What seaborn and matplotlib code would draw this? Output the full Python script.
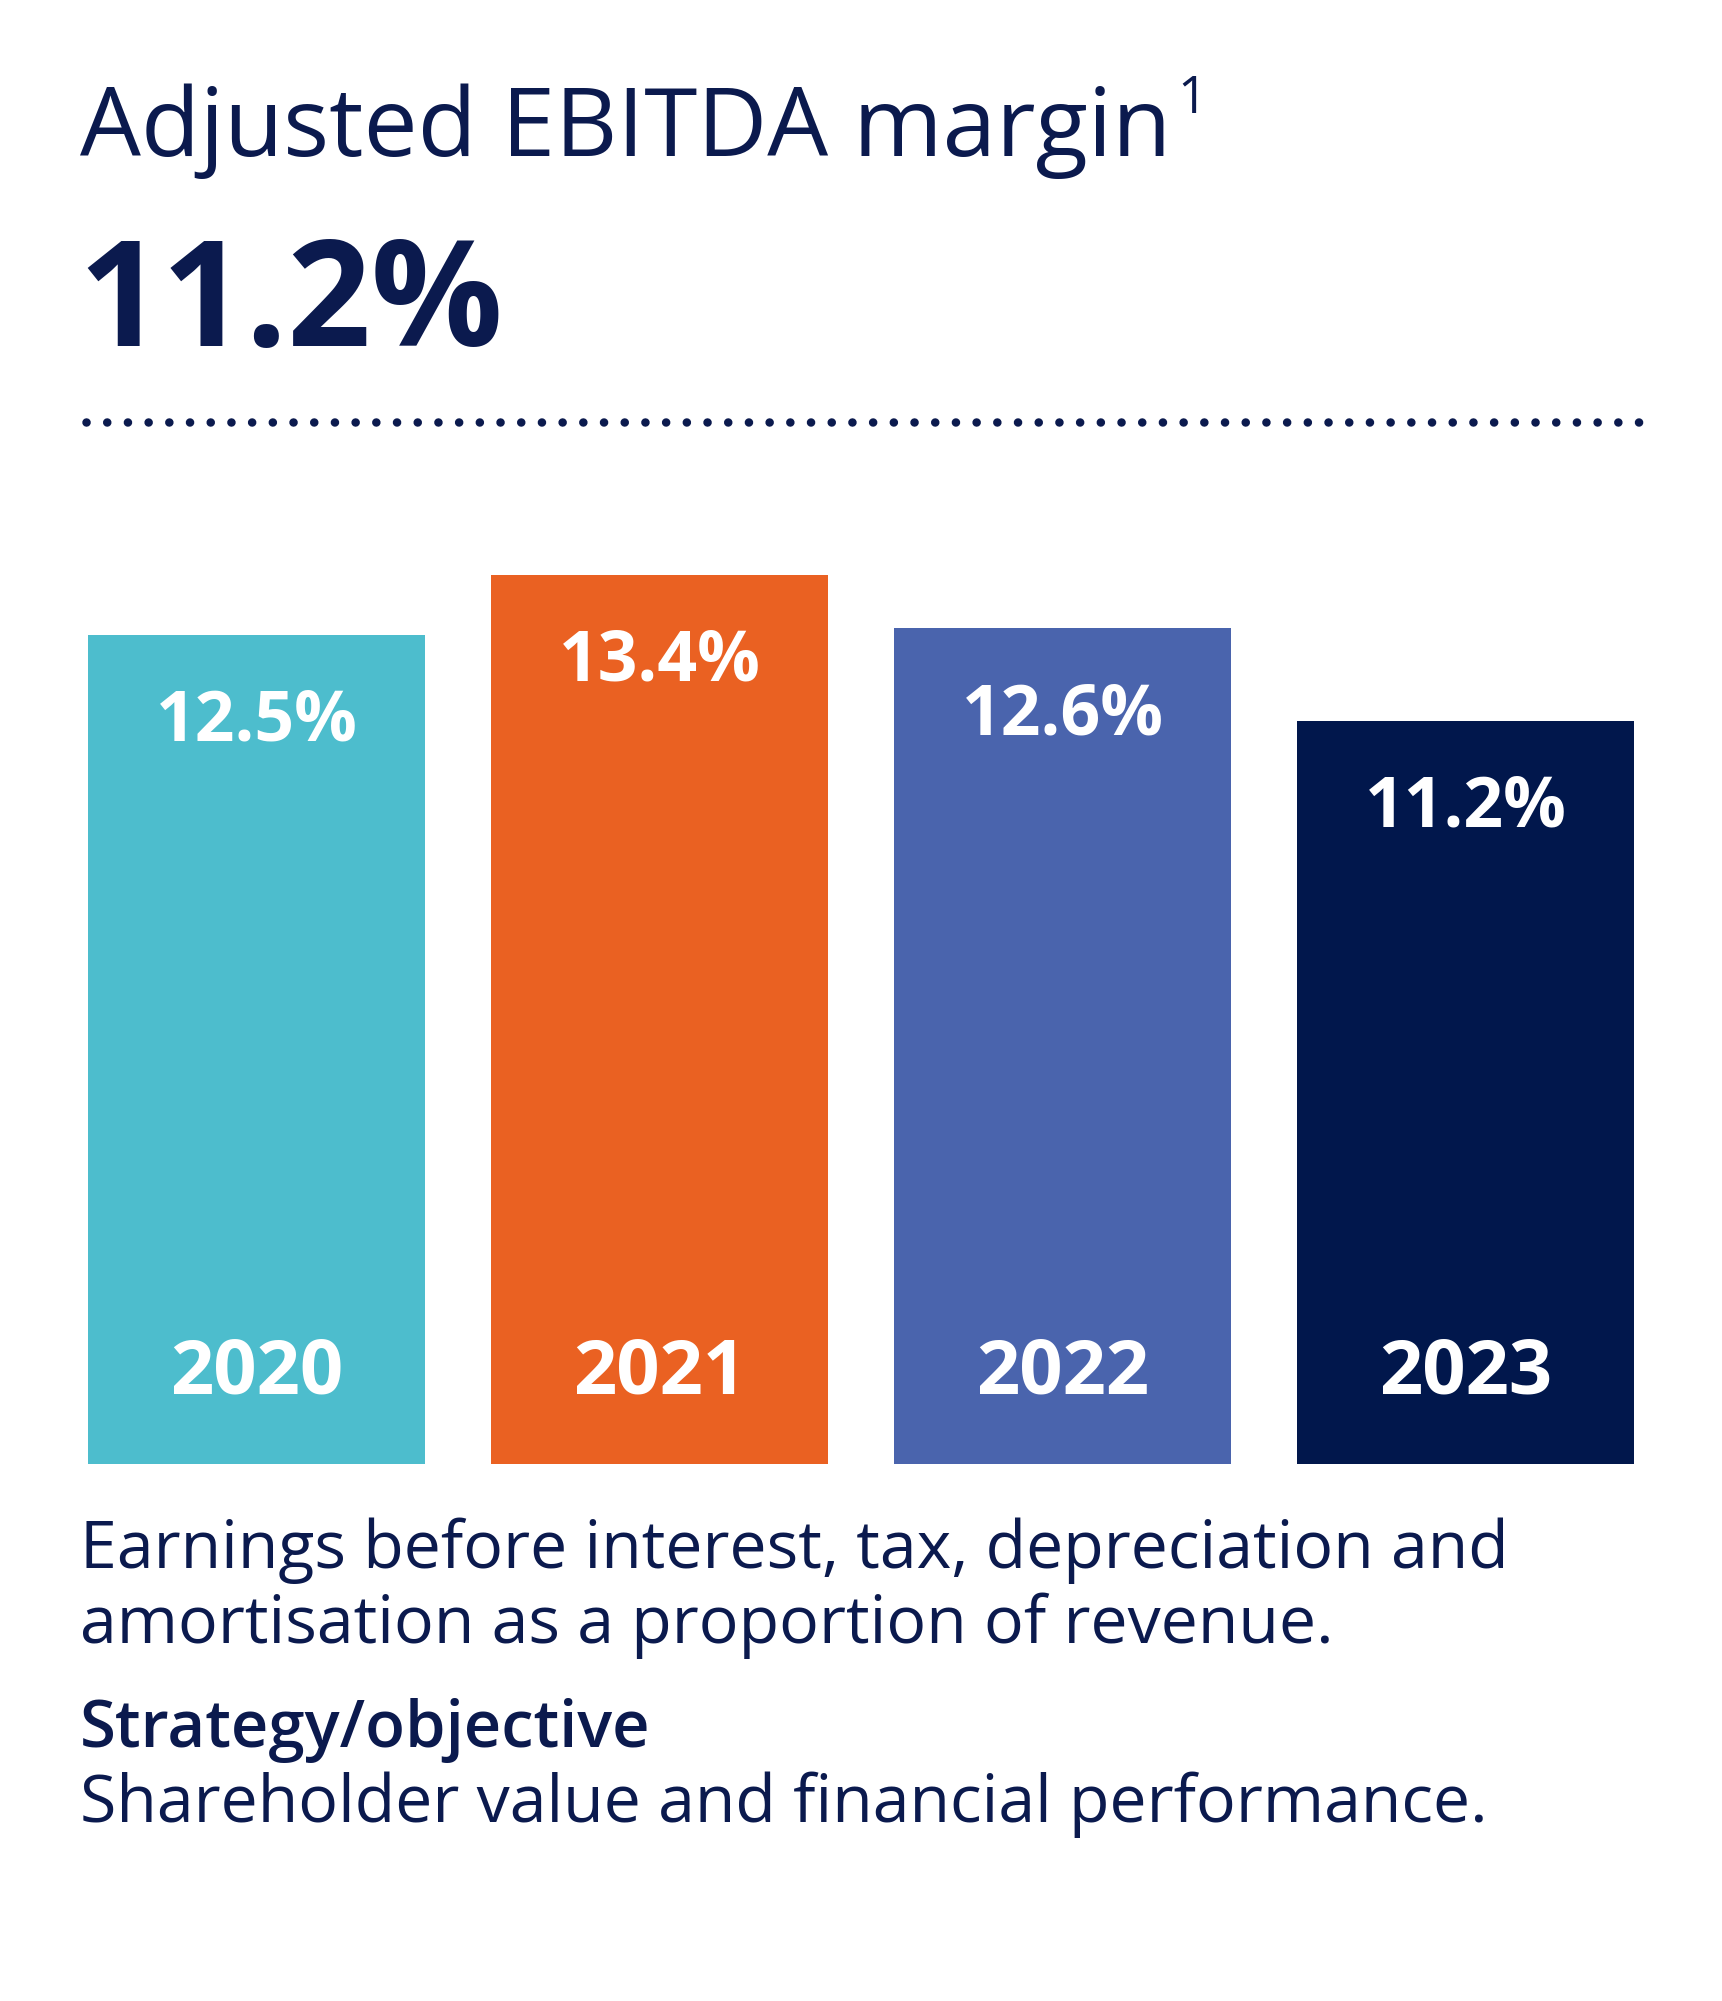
import numpy as np
import pandas as pd
import matplotlib
matplotlib.use("Agg")
import matplotlib.pyplot as plt
import seaborn as sns
from matplotlib.textpath import TextPath
from matplotlib.font_manager import FontProperties
from matplotlib.lines import Line2D

# ---------------- data ----------------
years = ["2020", "2021", "2022", "2023"]
margins = [12.5, 13.4, 12.6, 11.2]
value_labels = ["12.5%", "13.4%", "12.6%", "11.2%"]
bar_colors = ["#4dbdcd", "#ea6122", "#4a64ad", "#01174c"]
title_text = "Adjusted EBITDA margin"
footnote_mark = "1"
headline_value = "11.2%"
desc_lines = ["Earnings before interest, tax, depreciation and",
              "amortisation as a proportion of revenue."]
strategy_head = "Strategy/objective"
strategy_text = "Shareholder value and financial performance."

# ---------------- setup ----------------
W, H, DPI = 1722, 2001, 100
NAVY = "#0b1a4e"
sns.set_theme(style="white")
FONT = "Open Sans"
plt.rcParams["font.family"] = [FONT, "DejaVu Sans"]

fig = plt.figure(figsize=(W / DPI, H / DPI), dpi=DPI)
fig.patch.set_facecolor("white")


def fit_size(s, weight, target_w, target_cap, w_weight=0.85):
    fp = FontProperties(family=[FONT], weight=weight, size=100)
    w100 = TextPath((0, 0), s, prop=fp).get_extents().width
    c100 = TextPath((0, 0), "H", prop=fp).get_extents().height
    fw = target_w / (w100 / 100.0) * 72.0 / DPI
    fc = target_cap / (c100 / 100.0) * 72.0 / DPI
    return fw ** w_weight * fc ** (1 - w_weight)


def ftext(x, y, s, weight="normal", size=20, color=NAVY, **kw):
    return fig.text(x / W, 1 - y / H, s, fontsize=size, fontweight=weight,
                    color=color, ha="left", va="baseline", **kw)


# ---------------- header ----------------
t = ftext(80, 156, title_text, "normal", fit_size(title_text, "normal", 1104, 62))
fig.canvas.draw()
bb = t.get_window_extent(fig.canvas.get_renderer())
ftext(bb.x1 + 6, 113, footnote_mark, "normal",
      fit_size(footnote_mark, "normal", 12, 37, 0.0))

ftext(78, 346, headline_value, "bold", fit_size(headline_value, "bold", 396, 111, 0.6))

# dotted rule
dot_px = 8.5
lw_pt = dot_px * 72.0 / DPI
gap = 20.7 / dot_px
fig.add_artist(Line2D([86 / W, 1640 / W], [1 - 422 / H, 1 - 422 / H],
                      transform=fig.transFigure, color=NAVY, linewidth=lw_pt,
                      linestyle=(0, (0.01, gap - 0.01)), dash_capstyle="round",
                      solid_capstyle="round"))

# ---------------- bars ----------------
left, right, bottom_px, top_px = 88, 1634, 1464, 567
ax = fig.add_axes([left / W, 1 - bottom_px / H, (right - left) / W,
                   (bottom_px - top_px) / H])
df = pd.DataFrame({"year": years, "margin": margins})
sns.barplot(data=df, x="year", y="margin", hue="year", palette=bar_colors,
            saturation=1, width=0.836, legend=False, ax=ax, linewidth=0)
ax.set_xlim(-0.418, 3.418)
ax.set_ylim(0, 13.52)
ax.set_axis_off()

lab_size = fit_size("12.5%", "bold", 192, 51, 0.6)
yr_size = fit_size("2020", "bold", 177, 50, 0.6)
px2pt = 72.0 / DPI
for i, (v, lab, yr) in enumerate(zip(margins, value_labels, years)):
    ax.annotate(lab, xy=(i, v), xytext=(0, -106 * px2pt), textcoords="offset points",
                ha="center", va="baseline", color="white", fontsize=lab_size,
                fontweight="bold")
    ax.annotate(yr, xy=(i, 0), xytext=(0, 71 * px2pt), textcoords="offset points",
                ha="center", va="baseline", color="white", fontsize=yr_size,
                fontweight="bold")

# ---------------- footer ----------------
body = fit_size(desc_lines[0], "normal", 1435, 44)
ftext(80, 1568, desc_lines[0], "normal", body)
ftext(80, 1643, desc_lines[1], "normal", body)
ftext(80, 1747, strategy_head, "semibold", fit_size(strategy_head, "semibold", 571, 44))
ftext(80, 1822, strategy_text, "normal", body)

fig.savefig("out.png", dpi=DPI, facecolor="white")
